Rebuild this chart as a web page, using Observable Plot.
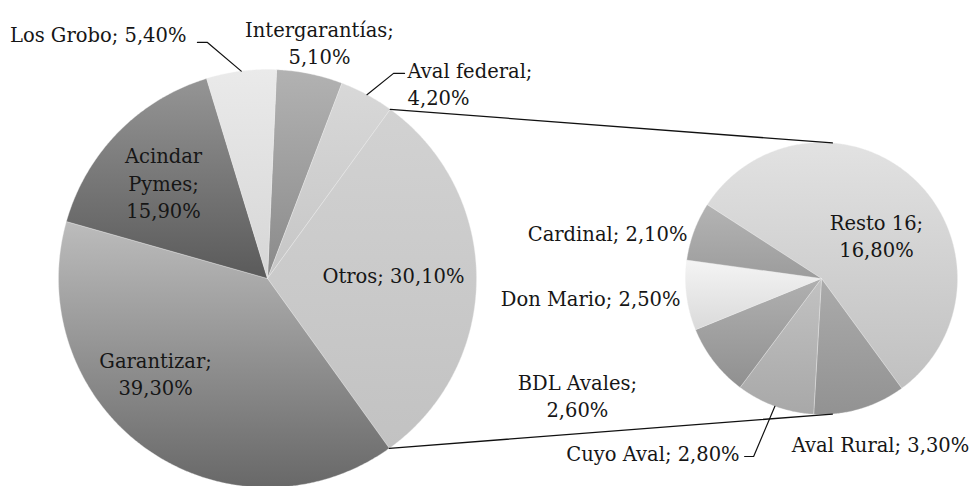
<!DOCTYPE html>
<html><head><meta charset="utf-8">
<script src="https://cdn.jsdelivr.net/npm/d3@7"></script>
<script src="https://cdn.jsdelivr.net/npm/@observablehq/plot@0.6"></script>
<style>body{margin:0;background:#fff}</style>
</head><body><div id="chart"></div>
<script>
// ---------- data ----------
const mainCategories = ["Intergarantías", "Aval federal", "Otros", "Garantizar", "Acindar Pymes", "Los Grobo"];
const mainValues = [5.1, 4.2, 30.1, 39.3, 15.9, 5.4];
const mainNames = ["Intergarantías;", "Aval federal;", "Otros;", "Garantizar;", "Acindar\nPymes;", "Los Grobo;"];
const mainSeparators = ["\n", "\n", " ", "\n", "\n", " "];

const subCategories = ["Resto 16", "Aval Rural", "Cuyo Aval", "BDL Avales", "Don Mario", "Cardinal"];
const subValues = [16.8, 3.3, 2.8, 2.6, 2.5, 2.1];
const subNames = ["Resto 16;", "Aval Rural;", "Cuyo Aval;", "BDL Avales;", "Don Mario;", "Cardinal;"];
const subSeparators = ["\n", " ", " ", "\n", " ", " "];

// ---------- layout / style ----------
const W = 973, H = 486;
const mainPie = {cx: 267, cy: 278, r: 209, start: 2.5};
const subPie = {cx: 821, cy: 278, r: 136, start: -57.1};
const mainTop = ["#b2b2b2", "#d8d8d8", "#d2d2d2", "#bcbcbc", "#959595", "#eaeaea"];
const mainBottom = ["#8a8a8a", "#c6c6c6", "#c2c2c2", "#686868", "#5a5a5a", "#d6d6d6"];
const subTop = ["#e2e2e2", "#ababab", "#c2c2c2", "#b0b0b0", "#f4f4f4", "#b4b4b4"];
const subBottom = ["#c0c0c0", "#929292", "#a8a8a8", "#909090", "#dadada", "#9c9c9c"];
// label placement: [radius factor, angle in degrees clockwise from top, text anchor, leader]
const mainLabelPos = [[1.158, 12.4, "middle", null], [1.151, 35.6, "start", "right"], [0.603, 88.2, "middle", null],
                      [0.701, 229.8, "middle", null], [0.679, 312.9, "middle", null], [1.235, 341.7, "end", "left"]];
const subLabelPos = [[0.518, 51.3, "middle", null], [1.288, 160.3, "middle", null], [1.414, 205.2, "end", "left2"],
                     [1.987, 244.6, "middle", null], [1.046, 262.3, "end", null], [1.042, 288.95, "end", null]];
const connectorSubAngles = [4.6, 175.4];

// ---------- geometry ----------
const pct = v => v.toFixed(2).replace(".", ",") + "%";
function pt(p, rf, deg) {
  const a = deg * Math.PI / 180;
  return [p.cx + p.r * rf * Math.sin(a), p.cy - p.r * rf * Math.cos(a)];
}
function slices(p, values) {
  const total = d3.sum(values);
  let a = p.start;
  return values.map((v, i) => {
    const span = v / total * 360;
    const s = {i, a0: a, a1: a + span, mid: a + span / 2};
    a += span;
    return s;
  });
}
function polygon(p, s) {
  const pts = [[p.cx, p.cy]];
  const n = Math.max(2, Math.ceil((s.a1 - s.a0) / 0.5));
  for (let k = 0; k <= n; k++) pts.push(pt(p, 1, s.a0 + (s.a1 - s.a0) * k / n));
  pts.push([p.cx, p.cy]);
  return pts.map(([x, y]) => ({x, y}));
}
function disc(p) {
  return d3.range(0, 361, 1).map(a => { const [x, y] = pt(p, 1, a); return {x, y}; });
}

const mainSlices = slices(mainPie, mainValues);
const subSlices = slices(subPie, subValues);

const marks = [];
// shadows
marks.push(Plot.line(disc(mainPie), {x: "x", y: "y", fill: "#777", stroke: "none", ariaLabel: "shadow"}));
marks.push(Plot.line(disc(subPie), {x: "x", y: "y", fill: "#777", stroke: "none", ariaLabel: "shadow"}));
mainSlices.forEach(s => marks.push(Plot.line(polygon(mainPie, s), {
  x: "x", y: "y", fill: `url(#gm${s.i})`, stroke: "#eeeeee", strokeWidth: 0.6, strokeOpacity: 0.6
})));
subSlices.forEach(s => marks.push(Plot.line(polygon(subPie, s), {
  x: "x", y: "y", fill: `url(#gs${s.i})`, stroke: "#eeeeee", strokeWidth: 0.6, strokeOpacity: 0.6
})));

// connector lines between pies (edges of "Otros")
const otros = mainSlices[2];
[[otros.a0, connectorSubAngles[0]], [otros.a1, connectorSubAngles[1]]].forEach(([am, as], k) => {
  const [x1, y1] = pt(mainPie, 1, am), [x2, y2] = pt(subPie, 1, as);
  marks.push(Plot.line([{x: x1, y: y1}, {x: x2, y: y2}], {x: "x", y: "y", stroke: "#111", strokeWidth: 1.3}));
});

// labels
const labels = [];
const leaders = [];
function addLabels(p, sl, names, seps, values, pos) {
  sl.forEach((s, i) => {
    const [rf, ang, anchor, leader] = pos[i];
    const [x, y] = pt(p, rf, ang);
    labels.push({x, y, anchor, text: names[i] + seps[i] + pct(values[i])});
    if (leader) {
      const edge = pt(p, 1, s.mid);
      let end, elbow;
      if (leader === "left") { end = [x + 11, y + 9]; elbow = [x + 21, y + 9]; }
      else if (leader === "left2") { end = [x + 5, y + 4]; elbow = [x + 14, y + 4]; }
      else { end = [x - 3, y - 9.5]; elbow = [x - 14, y - 9.5]; }
      [edge, elbow, end].forEach(([lx, ly]) => leaders.push({k: labels.length, x: lx, y: ly}));
    }
  });
}
addLabels(mainPie, mainSlices, mainNames, mainSeparators, mainValues, mainLabelPos);
addLabels(subPie, subSlices, subNames, subSeparators, subValues, subLabelPos);

marks.push(Plot.line(leaders, {x: "x", y: "y", z: "k", stroke: "#111", strokeWidth: 1.2}));
["start", "middle", "end"].forEach(anchor => {
  marks.push(Plot.text(labels.filter(d => d.anchor === anchor), {
    x: "x", y: "y", text: "text", textAnchor: anchor, lineAnchor: "middle", lineHeight: 1.4,
    fontFamily: "DejaVu Serif", fontSize: 19.5, fill: "#161616"
  }));
});

const chart = Plot.plot({
  width: W, height: H, margin: 0,
  x: {domain: [0, W], range: [0, W], axis: null},
  y: {domain: [0, H], range: [0, H], axis: null},
  style: {background: "#fff", overflow: "visible"},
  marks
});

// gradients & shadow filter
const svg = d3.select(chart);
const defs = svg.insert("defs", ":first-child");
function grad(id, top, bottom) {
  const g = defs.append("linearGradient").attr("id", id).attr("x1", 0).attr("y1", 0).attr("x2", 0).attr("y2", 1);
  g.append("stop").attr("offset", "0%").attr("stop-color", top);
  g.append("stop").attr("offset", "100%").attr("stop-color", bottom);
}
mainTop.forEach((c, i) => grad(`gm${i}`, c, mainBottom[i]));
subTop.forEach((c, i) => grad(`gs${i}`, c, subBottom[i]));
const f = defs.append("filter").attr("id", "blur").attr("x", "-20%").attr("y", "-20%").attr("width", "140%").attr("height", "140%");
f.append("feGaussianBlur").attr("stdDeviation", 3.5);
svg.selectAll("[aria-label=shadow]").attr("filter", "url(#blur)").attr("opacity", 0.55).attr("transform", "translate(0,2)");

document.getElementById("chart").appendChild(chart);
</script>
</body></html>
